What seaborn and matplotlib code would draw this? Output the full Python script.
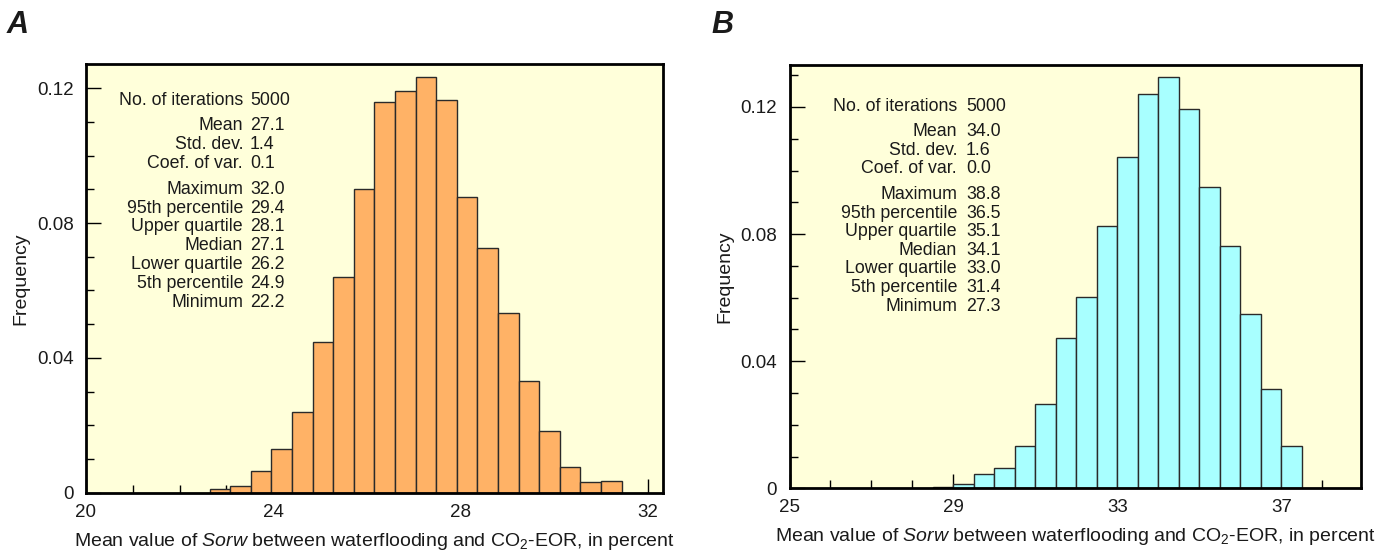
import numpy as np
import pandas as pd
import matplotlib
matplotlib.use("Agg")
import matplotlib.pyplot as plt
import seaborn as sns
from matplotlib.ticker import MultipleLocator, FixedLocator

sns.set_theme(style="ticks")
plt.rcParams['font.family'] = ['Liberation Sans', 'DejaVu Sans']
plt.rcParams['mathtext.fontset'] = 'custom'
plt.rcParams['mathtext.rm'] = 'Liberation Sans'
plt.rcParams['mathtext.it'] = 'Liberation Sans:italic'

# ---------------- data ----------------
a_bin_edges = [22.64, 23.08, 23.52, 23.96, 24.40, 24.84, 25.28, 25.72, 26.16, 26.60, 27.04,
               27.48, 27.92, 28.36, 28.80, 29.24, 29.68, 30.12, 30.56, 31.00, 31.44]
a_freq = [0.0010, 0.0019, 0.0064, 0.0130, 0.0240, 0.0447, 0.0641, 0.0900, 0.1159, 0.1193,
          0.1233, 0.1166, 0.0876, 0.0725, 0.0534, 0.0332, 0.0184, 0.0077, 0.0033, 0.0035]

b_bin_edges = [28.5, 29.0, 29.5, 30.0, 30.5, 31.0, 31.5, 32.0, 32.5, 33.0, 33.5,
               34.0, 34.5, 35.0, 35.5, 36.0, 36.5, 37.0, 37.5]
b_freq = [0.0003, 0.0013, 0.0046, 0.0063, 0.0133, 0.0264, 0.0472, 0.0603, 0.0825, 0.1042,
          0.1241, 0.1295, 0.1194, 0.0947, 0.0761, 0.0550, 0.0312, 0.0133]

stat_labels = ["No. of iterations", "Mean", "Std. dev.", "Coef. of var.", "Maximum",
               "95th percentile", "Upper quartile", "Median", "Lower quartile",
               "5th percentile", "Minimum"]
a_stat_values = ["5000", "27.1", "1.4", "0.1", "32.0", "29.4", "28.1", "27.1", "26.2", "24.9", "22.2"]
b_stat_values = ["5000", "34.0", "1.6", "0.0", "38.8", "36.5", "35.1", "34.1", "33.0", "31.4", "27.3"]

a_xticks = [20, 24, 28, 32]
b_xticks = [25, 29, 33, 37]
yticks = [0, 0.04, 0.08, 0.12]
ytick_labels = ["0", "0.04", "0.08", "0.12"]

xlabel = r"Mean value of $\it{Sorw}$ between waterflooding and CO$_2$-EOR, in percent"

# ---------------- figure ----------------
W, H = 1381, 552
fig = plt.figure(figsize=(W / 100, H / 100), dpi=100)

BG = "#FFFFDA"


def px_axes(l, r, t, b):
    return fig.add_axes([l / W, 1 - b / H, (r - l) / W, (b - t) / H])


def draw_panel(ax, edges, freq, color, xlim, ylim, xticks, stat_vals,
               px_box, label_rx, value_lx, rows_y):
    l, r, t, b = px_box
    centers = [(edges[i] + edges[i + 1]) / 2 for i in range(len(freq))]
    df = pd.DataFrame({"x": centers, "w": freq})
    sns.histplot(data=df, x="x", weights="w", bins=edges, stat="count",
                 color=color, alpha=1, edgecolor="#2a2a2a", linewidth=1.0, ax=ax)
    ax.set_facecolor(BG)
    ax.set_xlim(*xlim)
    ax.set_ylim(*ylim)
    ax.xaxis.set_major_locator(FixedLocator(xticks))
    ax.xaxis.set_minor_locator(MultipleLocator(1))
    ax.yaxis.set_major_locator(FixedLocator(yticks))
    ax.yaxis.set_minor_locator(MultipleLocator(0.01))
    ax.set_yticklabels(ytick_labels)
    ax.set_xticklabels([str(v) for v in xticks])
    ax.tick_params(axis="both", which="both", direction="in", color="black",
                   width=1.0, labelsize=13.5, labelcolor="#1a1a1a")
    ax.tick_params(axis="y", which="major", length=11, pad=9)
    ax.tick_params(axis="y", which="minor", length=5.5)
    ax.tick_params(axis="x", which="major", length=10, pad=8)
    ax.tick_params(axis="x", which="minor", length=5.5)
    for s in ax.spines.values():
        s.set_visible(True)
        s.set_linewidth(2.0)
        s.set_color("black")
    ax.set_xlabel(xlabel, fontsize=14, color="#1a1a1a", labelpad=7)
    ax.set_ylabel("Frequency", fontsize=14, color="#1a1a1a", labelpad=5)

    # stats block
    for lab, val, yy in zip(stat_labels, stat_vals, rows_y):
        fy = (b - yy) / (b - t)
        ax.text((label_rx - l) / (r - l), fy, lab, transform=ax.transAxes,
                ha="right", va="center", fontsize=12.8, color="#1a1a1a")
        ax.text((value_lx - l) / (r - l), fy, val, transform=ax.transAxes,
                ha="left", va="center", fontsize=12.8, color="#1a1a1a")


boxA = (86, 662.7, 64, 492.7)
axA = px_axes(*boxA)
draw_panel(axA, a_bin_edges, a_freq, "#FFB266", (20, 32.32), (0, 0.1272), a_xticks,
           a_stat_values, boxA, 243, 250,
           [100.5, 125.5, 144.5, 163.5, 189, 208, 226.5, 245, 264, 283, 302])

boxB = (789.5, 1360.5, 65, 488.3)
axB = px_axes(*boxB)
draw_panel(axB, b_bin_edges, b_freq, "#A8FFFF", (25, 38.93), (0, 0.1332), b_xticks,
           b_stat_values, boxB, 957, 966,
           [106.3, 131.3, 150.3, 168.3, 194.7, 213.7, 231.7, 250.3, 268.7, 287.7, 306.3])

fig.text(7 / W, 1 - 33 / H, "A", fontsize=22, fontweight="bold", fontstyle="italic",
         color="#1a1a1a", ha="left", va="baseline")
fig.text(711 / W, 1 - 33 / H, "B", fontsize=22, fontweight="bold", fontstyle="italic",
         color="#1a1a1a", ha="left", va="baseline")

fig.savefig("out.png", dpi=100)
